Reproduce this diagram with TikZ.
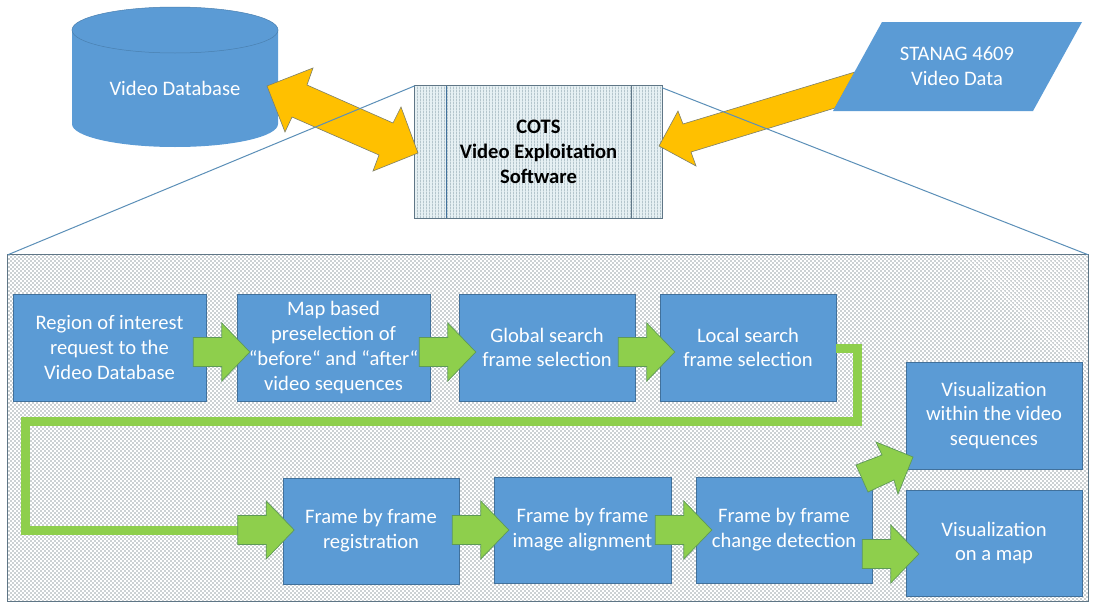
\documentclass[tikz,border=0pt]{standalone}
\usepackage{fontspec}
\setmainfont{Carlito}
\usetikzlibrary{patterns}

\definecolor{boxblue}{HTML}{5B9BD5}
\definecolor{boxedge}{HTML}{41719C}
\definecolor{flowgreen}{HTML}{8ECF4C}
\definecolor{flowedge}{HTML}{5E9A57}
\definecolor{linkyellow}{HTML}{FFC000}
\definecolor{linkedge}{HTML}{7C7F6A}
\definecolor{panelline}{HTML}{5B8FB8}
\definecolor{paneledge}{HTML}{5F7686}
\definecolor{dotgrey}{HTML}{98A3A6}
\definecolor{stripegrey}{HTML}{B4C5CC}
\definecolor{stripebase}{HTML}{E6F0F3}

% Checkered dot texture for the enlarged panel
\pgfdeclarepatternformonly{panel dots}{\pgfqpoint{-0.2pt}{-0.2pt}}{\pgfqpoint{4.2pt}{4.2pt}}{\pgfqpoint{4pt}{4pt}}{%
  \pgfpathcircle{\pgfqpoint{1pt}{1pt}}{0.76pt}
  \pgfpathcircle{\pgfqpoint{3pt}{3pt}}{0.76pt}
  \pgfusepath{fill}}
% Fine vertical ruling for the software block
\pgfdeclarepatternformonly{block stripes}{\pgfqpoint{0pt}{0pt}}{\pgfqpoint{3pt}{3pt}}{\pgfqpoint{3pt}{3pt}}{%
  \pgfpathrectangle{\pgfqpoint{0pt}{0pt}}{\pgfqpoint{1.1pt}{3pt}}
  \pgfusepath{fill}}

\tikzset{
  x=1pt, y=-1pt,
  labeltext/.style={font=\fontsize{20.6}{24.8}\selectfont, align=center},
  stepbox/.style={labeltext, rectangle, fill=boxblue, draw=boxedge, line width=0.6pt,
    text=white, inner sep=0pt, minimum height=107pt},
  lightlabel/.style={labeltext, text=white, inner sep=0pt},
  flowarrow/.style={fill=flowgreen, draw=flowedge, line width=0.7pt, line join=miter},
  flowband/.style={draw=flowgreen, line width=9pt, line join=miter},
  linkarrow/.style={fill=linkyellow, draw=linkedge, line width=0.6pt, line join=miter},
  zoomline/.style={draw=panelline, line width=1pt},
  drumline/.style={draw=boxedge!65!boxblue, line width=0.5pt},
}

% Straight block arrow: start of the shaft given relative to an anchor
\newcommand{\flowstep}[2]{%
  \draw[flowarrow] ([shift={#2}]#1) -- ++(0,-14.5) -- ++(28.5,0) -- ++(0,-14.5)
    -- ++(28,29) -- ++(-28,29) -- ++(0,-14.5) -- ++(-28.5,0) -- cycle;}

\begin{document}
\begin{tikzpicture}
\useasboundingbox (0,0) rectangle (1096,608);
\fill[white] (0,0) rectangle (1096,608);

% Enlarged panel
\node[rectangle, minimum width=1080pt, minimum height=346pt, inner sep=0pt, draw=none, fill=white,
      postaction={pattern=panel dots, pattern color=dotgrey}] (panel) at (548,428) {};
\draw[draw=paneledge, line width=1pt] (panel.north west) rectangle (panel.south east);

% Video database drum
\fill[boxblue] (72,30) -- (72,124)
  .. controls (72,136.7) and (118,147) .. (175,147)
  .. controls (232,147) and (278,136.7) .. (278,124) -- (278,30) -- cycle;
\draw[fill=boxblue, drumline] (175,30) ellipse [x radius=103, y radius=23];
\node[lightlabel] (db) at (175,88) {Video Database};

% Software block
\node[rectangle, minimum width=247pt, minimum height=132pt, inner sep=0pt, fill=stripebase,
      postaction={pattern=block stripes, pattern color=stripegrey}] (cots) at (538.5,152) {};
\draw[draw=paneledge, line width=0.9pt] (cots.north west) rectangle (cots.south east);
\coordinate (barL) at (446,86);
\coordinate (barR) at (631,86);
\draw[draw=boxedge, line width=1pt] (barL) -- (barL |- cots.south);
\draw[draw=paneledge, line width=1pt] (barR) -- (barR |- cots.south);
\node[labeltext, font=\fontsize{20.6}{24.8}\selectfont\bfseries, text=black, inner sep=0pt] (cotstext) at (538.5,152)
  {COTS\\Video Exploitation\\Software};

% Links between stores and software
\coordinate (dbport) at (267,86);
\coordinate (cotsin) at (418,153);
\draw[linkarrow] (dbport) -- ++(46,-18) -- ++(-6,17) -- ++(86,38) -- ++(8,-16) -- (cotsin)
  -- ++(-45,18) -- ++(6,-16) -- ++(-87,-38) -- ++(-7,15) -- cycle;
\coordinate (feedtop) at (855,72);
\coordinate (feedbot) at (835,108);
\coordinate (cotsout) at (659,146);
\draw[linkarrow] (feedtop) -- (683,124) -- (678,111) -- (cotsout) -- (696,166) -- (691,152) -- (feedbot) -- cycle;

% Video input
\fill[boxblue] (882,22) -- (1082,22) -- (1033,111) -- (833,111) -- cycle;
\node[lightlabel] (feed) at (957,66.5) {STANAG 4609\\Video Data};

% Lines opening the block into the panel
\draw[zoomline] (cots.north west) -- (panel.north west);
\draw[zoomline] ([yshift=-2pt]cots.north east) -- (panel.north east);

% Processing steps
\node[stepbox, minimum width=193pt] (roi) at (109.5,347.5) {Region of interest\\request to the\\Video Database};
\node[stepbox, minimum width=193pt] (pre) at (333.5,347.5) {Map based\\preselection of\\“before“ and “after“\\video sequences};
\node[stepbox, minimum width=176pt] (global) at (547,347.5) {Global search\\frame selection};
\node[stepbox, minimum width=176pt] (local) at (748,347.5) {Local search\\frame selection};
\node[stepbox, minimum width=176pt, minimum height=106pt] (reg) at (371,531) {Frame by frame\\registration};
\node[stepbox, minimum width=177pt, minimum height=106pt] (align) at (582.5,530) {Frame by frame\\image alignment};
\node[stepbox, minimum width=176pt, minimum height=106pt] (change) at (784,530) {Frame by frame\\change detection};
\node[stepbox, minimum width=176pt] (vseq) at (994,415.5) {Visualization\\within the video\\sequences};
\node[stepbox, minimum width=176pt, minimum height=106pt] (vmap) at (994,543) {Visualization\\on a map};

% Flow between the steps
\flowstep{roi.east}{(-13,4.5)}
\flowstep{pre.east}{(-11,4.5)}
\flowstep{global.east}{(-17,4.5)}

\coordinate (turnNE) at (857.5,348);
\coordinate (turnSE) at (857.5,421);
\coordinate (turnNW) at (25,421);
\coordinate (turnSW) at (25,530);
\coordinate (regtail) at (240,530);
\draw[flowband] (local.east |- turnNE) -- (turnNE) -- (turnSE) -- (turnNW) -- (turnSW) -- (regtail);

\flowstep{reg.west}{(-45,-1)}
\flowstep{reg.east}{(-7,-1)}
\flowstep{align.east}{(-16,0)}
\flowstep{change.east}{(-10,24)}
\draw[flowarrow] (856,465) -- (882,455) -- (876,442) -- (913,457) -- (898,494) -- (894,480) -- (868,492) -- cycle;
\end{tikzpicture}
\end{document}
